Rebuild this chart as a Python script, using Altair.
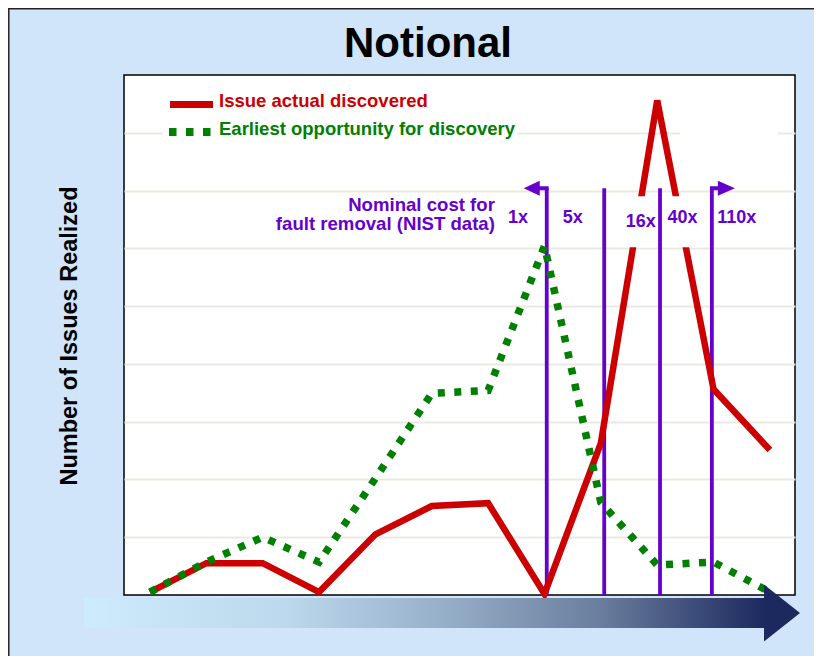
import altair as alt
import pandas as pd

# ---------------- data ----------------
steps = list(range(12))
actual = [0.05, 0.55, 0.55, 0.05, 1.05, 1.54, 1.59, 0.02, 2.63, 8.56, 3.56, 2.51]
earliest = [0.05, 0.57, 1.00, 0.57, 2.02, 3.49, 3.54, 6.04, 1.60, 0.52, 0.57, 0.05]

cost_lines_x = [7.04, 8.06, 9.05, 9.97]
cost_line_top = 7.04
cost_labels = ["1x", "5x", "16x", "40x", "110x"]
cost_label_x = [6.53, 7.50, 8.71, 9.45, 10.41]
cost_label_y = [6.44, 6.44, 6.37, 6.44, 6.44]

note_lines = ["Nominal cost for", "fault removal (NIST data)"]
note_x = [6.12, 6.12]
note_y = [6.64, 6.31]

legend_labels = ["Issue actual discovered", "Earliest opportunity for discovery"]
title_text = "Notional"
y_title = "Number of Issues Realized"

RED = "#cc0000"
GREEN = "#008000"
PURPLE = "#6600cc"
BG = "#d0e5fa"
FONT = "Arial"

df = pd.DataFrame({"step": steps, "actual": actual, "earliest": earliest})

xs = alt.Scale(domain=[-0.461, 11.445], nice=False, zero=False)
ys = alt.Scale(domain=[0, 9], nice=False, zero=False)
yaxis = alt.Axis(grid=True, labels=False, ticks=False, domain=False, title=None,
                 values=[1, 2, 3, 4, 5, 6, 7, 8], gridColor="#ebe9df", gridWidth=2)


def X(f):
    return alt.X(f, type="quantitative", scale=xs, axis=None)


def Y(f):
    return alt.Y(f, type="quantitative", scale=ys, axis=yaxis)


one = pd.DataFrame({"k": [0]})

# ---- bottom gradient arrow (decoration, outside the plot) ----
band = alt.Chart(one).mark_rect(
    fill=alt.Gradient(
        gradient="linear",
        stops=[
            alt.GradientStop(color="#cdecfb", offset=0),
            alt.GradientStop(color="#c9e6f8", offset=0.08),
            alt.GradientStop(color="#bcd8ec", offset=0.30),
            alt.GradientStop(color="#94adc6", offset=0.54),
            alt.GradientStop(color="#6a7d9d", offset=0.76),
            alt.GradientStop(color="#1c295e", offset=1),
        ],
        x1=0, x2=1, y1=0, y2=0,
    )
).encode(x=alt.value(-40), x2=alt.value(641), y=alt.value(523), y2=alt.value(553))

band_head = alt.Chart(one).mark_point(
    shape="M-18,-28.5L18,0L-18,28.5Z", size=4, filled=True, fill="#1c295e",
    opacity=1, strokeWidth=0
).encode(x=alt.value(658), y=alt.value(538))

# ---- frame lines (top/left of the slide) ----
frame_left = alt.Chart(one).mark_rule(color="#222222", strokeWidth=1.5).encode(
    x=alt.value(-115.2), y=alt.value(-67), y2=alt.value(581))
frame_top = alt.Chart(one).mark_rule(color="#222222", strokeWidth=1.5).encode(
    x=alt.value(-116), x2=alt.value(690), y=alt.value(-66.2))

# ---- white text-box backgrounds hiding parts of gridlines ----
legend_bg = alt.Chart(one).mark_rect(fill="white").encode(
    x=alt.value(39), x2=alt.value(393), y=alt.value(48), y2=alt.value(66))
gap_bg = alt.Chart(one).mark_rect(fill="white").encode(
    x=alt.value(556), x2=alt.value(654), y=alt.value(52), y2=alt.value(62))

# ---- purple cost lines ----
rules_df = pd.DataFrame({"x": cost_lines_x, "y0": [0] * 4, "y1": [cost_line_top] * 4})
rules = alt.Chart(rules_df).mark_rule(color=PURPLE, strokeWidth=3.8).encode(
    x=X("x"), y=Y("y0"), y2=alt.Y2("y1"))

# ---- series lines ----
red = alt.Chart(df).mark_line(color=RED, strokeWidth=6.5).encode(x=X("step"), y=Y("actual"))
green = alt.Chart(df).mark_line(
    color=GREEN, strokeWidth=7.5, strokeDash=[7, 9.5], strokeCap="butt"
).encode(x=X("step"), y=Y("earliest"))

# ---- white boxes behind the 16x / 40x labels ----
box_df = pd.DataFrame({"x": [8.45, 9.10], "x2": [9.0, 9.79], "y": [6.02, 6.02], "y2": [6.9, 6.9]})
boxes = alt.Chart(box_df).mark_rect(fill="white").encode(
    x=X("x"), x2=alt.X2("x2"), y=Y("y"), y2=alt.Y2("y2"))

# ---- arrowheads on first/last cost line ----
arr_left = alt.Chart(pd.DataFrame({"x": [cost_lines_x[0]], "y": [cost_line_top]})).mark_point(
    shape="M-23,0L-7,-7.5L-7,-1.9L1.9,-1.9L1.9,1.9L-7,1.9L-7,7.5Z", size=4, filled=True,
    fill=PURPLE, opacity=1, strokeWidth=0).encode(x=X("x"), y=Y("y"))
arr_right = alt.Chart(pd.DataFrame({"x": [cost_lines_x[-1]], "y": [cost_line_top]})).mark_point(
    shape="M-1.9,-1.9L6,-1.9L6,-7.5L23,0L6,7.5L6,1.9L-1.9,1.9Z", size=4, filled=True,
    fill=PURPLE, opacity=1, strokeWidth=0).encode(x=X("x"), y=Y("y"))

# ---- text ----
cost_df = pd.DataFrame({"x": cost_label_x, "y": cost_label_y, "label": cost_labels})
cost_text = alt.Chart(cost_df).mark_text(
    color=PURPLE, fontSize=18, fontWeight="bold", font=FONT, baseline="alphabetic", align="center"
).encode(x=X("x"), y=Y("y"), text="label:N")

note_df = pd.DataFrame({"x": note_x, "y": note_y, "label": note_lines})
note_text = alt.Chart(note_df).mark_text(
    color=PURPLE, fontSize=18.6, fontWeight="bold", font=FONT, baseline="alphabetic", align="right"
).encode(x=X("x"), y=Y("y"), text="label:N")

title = alt.Chart(one).mark_text(
    text=title_text, fontSize=42, fontWeight="bold", font=FONT, color="black",
    align="center", baseline="alphabetic"
).encode(x=alt.value(304), y=alt.value(-18))

ytitle = alt.Chart(one).mark_text(
    text=y_title, fontSize=23.5, fontWeight="bold", font=FONT, color="black",
    align="center", baseline="middle", angle=270
).encode(x=alt.value(-54), y=alt.value(261))

leg_red_line = alt.Chart(one).mark_rule(color=RED, strokeWidth=7, strokeCap="butt").encode(
    x=alt.value(46), x2=alt.value(89), y=alt.value(29.5))
leg_green_line = alt.Chart(one).mark_rule(
    color=GREEN, strokeWidth=8, strokeCap="butt", strokeDash=[7.5, 9.5]).encode(
    x=alt.value(45), x2=alt.value(87), y=alt.value(57))
leg_red_text = alt.Chart(one).mark_text(
    text=legend_labels[0], fontSize=18.5, fontWeight="bold", font=FONT, color=RED,
    align="left", baseline="alphabetic").encode(x=alt.value(95), y=alt.value(32))
leg_green_text = alt.Chart(one).mark_text(
    text=legend_labels[1], fontSize=18.5, fontWeight="bold", font=FONT, color=GREEN,
    align="left", baseline="alphabetic").encode(x=alt.value(95), y=alt.value(60))

chart = alt.layer(
    legend_bg, gap_bg, rules, red, boxes, green, arr_left, arr_right,
    cost_text, note_text, leg_red_line, leg_green_line, leg_red_text, leg_green_text,
    band, band_head, frame_left, frame_top, title, ytitle,
).properties(
    width=671, height=520,
    autosize=alt.AutoSizeParams(type="none"),
    padding={"left": 116, "top": 67, "right": 19, "bottom": 61},
    background=BG,
).configure_view(stroke="black", strokeWidth=1.5, fill="white")

chart.save("out.html", embed_options={"renderer": "svg", "actions": False})
